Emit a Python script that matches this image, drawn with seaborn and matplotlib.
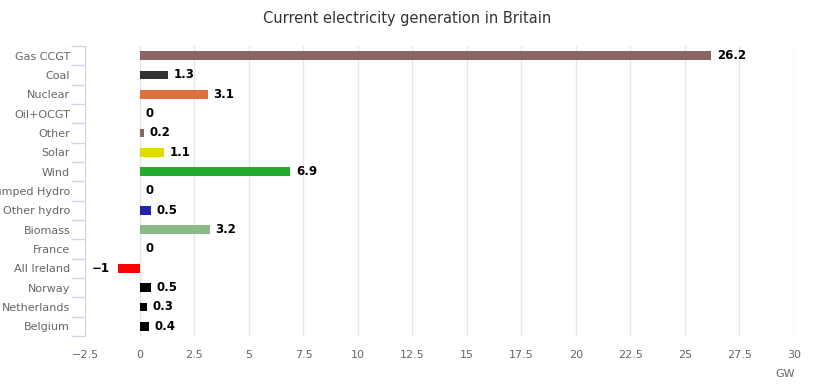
import numpy as np
import pandas as pd
import matplotlib
matplotlib.use("Agg")
import matplotlib.pyplot as plt
import seaborn as sns

# data
sources = ["Gas CCGT", "Coal", "Nuclear", "Oil+OCGT", "Other", "Solar", "Wind",
           "Pumped Hydro", "Other hydro", "Biomass", "France", "All Ireland",
           "Norway", "Netherlands", "Belgium"]
gw = [26.2, 1.3, 3.1, 0, 0.2, 1.1, 6.9, 0, 0.5, 3.2, 0, -1, 0.5, 0.3, 0.4]
bar_colors = ["#8b6464", "#333333", "#e07040", "#999999", "#8b6464", "#dddd00",
              "#22aa2a", "#3366cc", "#2222aa", "#88bb88", "#3366cc", "#ff0000",
              "#000000", "#000000", "#000000"]
x_ticks = [-2.5, 0, 2.5, 5, 7.5, 10, 12.5, 15, 17.5, 20, 22.5, 25, 27.5, 30]

df = pd.DataFrame({"source": sources, "gw": gw})

sns.set_style("white")
plt.rcParams["font.family"] = ["DejaVu Sans"]

fig = plt.figure(figsize=(8.2, 3.87), dpi=100)
ax = fig.add_axes([85.5 / 820, 1 - 336 / 387, (794 - 85.5) / 820, (336 - 46) / 387])

sns.barplot(data=df, x="gw", y="source", hue="source", palette=bar_colors,
            legend=False, width=0.46, orient="h", ax=ax, saturation=1,
            linewidth=0)

ax.set_xlim(-2.5, 30)
ax.set_ylim(len(sources) - 0.5, -0.5)
ax.set_xticks(x_ticks)
ax.set_xticklabels([f"{t:g}".replace("-", "−") for t in x_ticks],
                   fontsize=8, color="#666666")
ax.tick_params(axis="x", length=0, pad=10)
ax.grid(axis="x", color="#e6e6e6", linewidth=1)
ax.set_axisbelow(True)

# category labels + boundary tick marks
ax.set_yticks(range(len(sources)))
ax.set_yticklabels(sources, fontsize=8, color="#666666")
ax.tick_params(axis="y", which="major", left=False, length=0, pad=11)
ax.set_yticks(np.arange(-0.5, len(sources), 1), minor=True)
ax.tick_params(axis="y", which="minor", left=True, length=10,
               color="#ccd6eb", width=1)

for s in ["top", "right", "bottom"]:
    ax.spines[s].set_visible(False)
ax.spines["left"].set_color("#ccd6eb")
ax.set_xlabel("")
ax.set_ylabel("")

# value labels
for i, v in enumerate(gw):
    txt = f"{v:g}".replace("-", "−")
    if v < 0:
        ax.annotate(txt, (v, i), xytext=(-6, 0), textcoords="offset points",
                    ha="right", va="center", fontsize=8.5, fontweight="bold",
                    color="#000000")
    else:
        ax.annotate(txt, (v, i), xytext=(4, 0), textcoords="offset points",
                    ha="left", va="center", fontsize=8.5, fontweight="bold",
                    color="#000000")

fig.text(407 / 820, 1 - 18 / 387, "Current electricity generation in Britain",
         ha="center", va="center", fontsize=10.5, color="#333333")
fig.text(785 / 820, 1 - 374 / 387, "GW", ha="center", va="center",
         fontsize=8, color="#666666")

fig.savefig("out.png", dpi=100)
